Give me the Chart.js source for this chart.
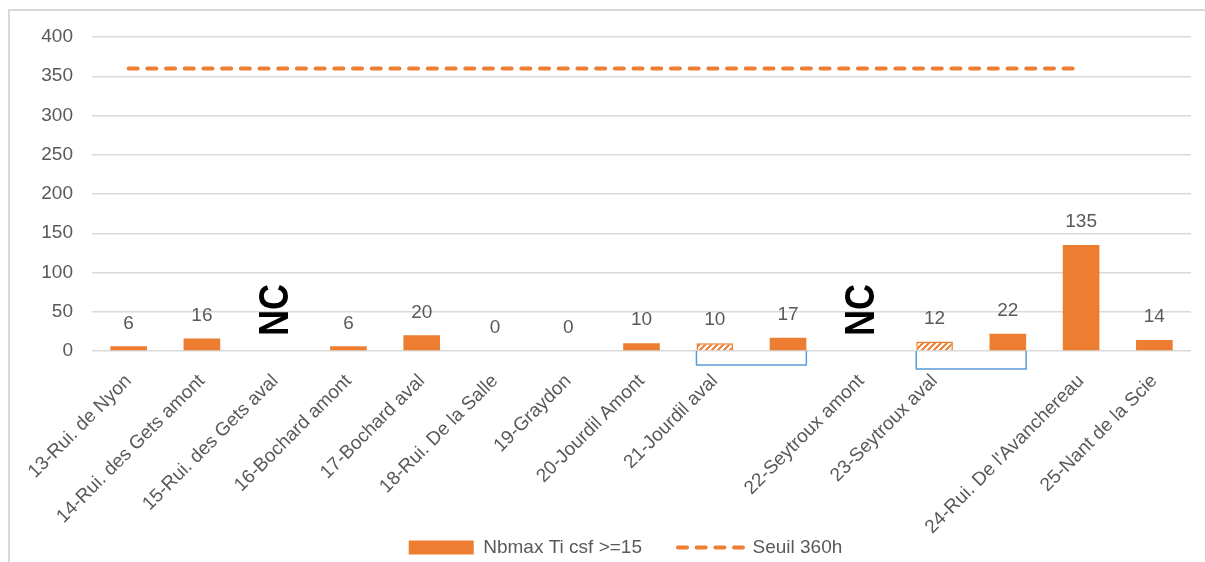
<!DOCTYPE html>
<html>
<head>
<meta charset="utf-8">
<script src="https://cdn.jsdelivr.net/npm/chart.js@4.4.1/dist/chart.umd.min.js"></script>
<style>
  html, body { margin: 0; padding: 0; background: #fff; overflow: hidden; }
  #wrap { position: relative; width: 1205px; height: 562px; }
</style>
</head>
<body>
<div id="wrap"><canvas id="chart" width="1205" height="562"></canvas></div>
<script>
// categories (empty label = second bar of the same station)
const stations = [
    '13-Rui. de Nyon', '14-Rui. des Gets amont', '15-Rui. des Gets aval',
    '16-Bochard amont', '17-Bochard aval', '18-Rui. De la Salle', '19-Graydon',
    '20-Jourdil Amont', '21-Jourdil aval', '', '22-Seytroux amont',
    '23-Seytroux aval', '', "24-Rui. De l'Avanchereau", '25-Nant de la Scie'
];
// null = NC (not communicated)
const nbmax = [6, 16, null, 6, 20, 0, 0, 10, 10, 17, null, 12, 22, 135, 14];
const seuil = [360, 360, 360, 360, 360, 360, 360, 360, 360, 360, 360, 360, 360, 360, null];
const hatched = [8, 11];            // bar indexes drawn with stripes
const brackets = [[8, 9], [11, 12]]; // pairs of bars grouped under one station
const yTicks = [0, 50, 100, 150, 200, 250, 300, 350, 400];

const ORANGE = '#ED7D31';
const GREY_TEXT = '#595959';
const FONT = "'Liberation Sans', Arial, sans-serif";

// striped fill for the partial bars
function makeHatch() {
    const c = document.createElement('canvas');
    c.width = 6; c.height = 6;
    const g = c.getContext('2d');
    g.fillStyle = '#fff';
    g.fillRect(0, 0, 6, 6);
    g.strokeStyle = ORANGE;
    g.lineWidth = 2;
    g.beginPath();
    g.moveTo(-1, 7); g.lineTo(7, -1);
    g.moveTo(-4, 4); g.lineTo(4, -4);
    g.moveTo(2, 10); g.lineTo(10, 2);
    g.stroke();
    return g.createPattern(c, 'repeat');
}
const hatch = makeHatch();

const barColors = nbmax.map((v, i) => hatched.includes(i) ? hatch : ORANGE);
const barBorders = nbmax.map((v, i) => hatched.includes(i) ? 1.5 : 0);

// outer frame like the spreadsheet chart area
const framePlugin = {
    id: 'frame',
    beforeDraw(chart) {
        const ctx = chart.ctx;
        ctx.save();
        ctx.fillStyle = '#fff';
        ctx.fillRect(0, 0, chart.width, chart.height);
        ctx.strokeStyle = '#d9d9d9';
        ctx.lineWidth = 2;
        ctx.strokeRect(9, 10, chart.width + 20, chart.height + 20);
        ctx.restore();
    }
};

// legend sits a bit right of the canvas centre and a bit lower in the original;
// the long rotated station names run down beside the legend, so let them overflow
const layoutTweak = {
    id: 'layoutTweak',
    afterLayout(chart) {
        const lg = chart.legend;
        lg.left += 50;
        lg.top += 7;
        lg.bottom += 7;
        chart.scales.x.bottom = chart.height;
    }
};

// value labels, NC labels and the blue brackets
const annotPlugin = {
    id: 'annot',
    afterDatasetsDraw(chart) {
        const ctx = chart.ctx;
        const xs = chart.scales.x, ys = chart.scales.y;
        const meta = chart.getDatasetMeta(0);
        const y0 = ys.getPixelForValue(0);
        ctx.save();
        ctx.textAlign = 'center';
        ctx.textBaseline = 'middle';
        nbmax.forEach((v, i) => {
            const x = xs.getPixelForValue(i);
            if (v === null) {
                ctx.save();
                ctx.translate(x, y0 - 41);
                ctx.rotate(-Math.PI / 2);
                ctx.scale(0.84, 1);
                ctx.fillStyle = '#000';
                ctx.font = 'bold 43px ' + FONT;
                ctx.fillText('NC', 0, 1);
                ctx.restore();
            } else {
                ctx.fillStyle = GREY_TEXT;
                ctx.font = '19px ' + FONT;
                ctx.fillText(String(v), x, ys.getPixelForValue(v) - 23);
            }
        });
        ctx.strokeStyle = '#5B9BD5';
        ctx.lineWidth = 1.5;
        ctx.lineJoin = 'round';
        brackets.forEach(([a, b], k) => {
            const ba = meta.data[a], bb = meta.data[b];
            const left = ba.x - ba.width / 2;
            const right = bb.x + bb.width / 2;
            const depth = k === 0 ? 14 : 18;
            ctx.beginPath();
            ctx.moveTo(left, y0);
            ctx.lineTo(left, y0 + depth);
            ctx.lineTo(right, y0 + depth);
            ctx.lineTo(right, y0);
            ctx.stroke();
        });
        ctx.restore();
    }
};

new Chart(document.getElementById('chart'), {
    type: 'bar',
    data: {
        labels: stations,
        datasets: [{
            label: 'Nbmax Ti csf >=15',
            data: nbmax,
            backgroundColor: barColors,
            borderColor: ORANGE,
            borderWidth: barBorders,
            barPercentage: 0.5,
            categoryPercentage: 1,
            pointStyle: 'rect',
            order: 2
        }, {
            type: 'line',
            label: 'Seuil 360h',
            data: seuil,
            borderColor: ORANGE,
            backgroundColor: ORANGE,
            borderWidth: 4,
            borderDash: [9, 9.7],
            borderCapStyle: 'round',
            pointRadius: 0,
            pointStyle: 'line',
            fill: false,
            order: 1
        }]
    },
    options: {
        responsive: false,
        animation: false,
        events: [],
        layout: { padding: { left: 10, right: 14, top: 37, bottom: 2 } },
        plugins: {
            legend: {
                position: 'bottom',
                labels: {
                    usePointStyle: true,
                    pointStyleWidth: 65,
                    boxHeight: 14,
                    padding: 36,
                    color: GREY_TEXT,
                    font: { family: FONT, size: 19 },
                    sort: (a, b) => a.datasetIndex - b.datasetIndex,
                    generateLabels(chart) {
                        const items = Chart.defaults.plugins.legend.labels.generateLabels(chart);
                        items.forEach(it => {
                            const ds = chart.data.datasets[it.datasetIndex];
                            if (ds.type === 'line') {
                                it.lineDash = ds.borderDash;
                                it.lineCap = ds.borderCapStyle;
                                it.lineWidth = ds.borderWidth;
                                it.strokeStyle = ds.borderColor;
                            } else {
                                it.fillStyle = ORANGE;
                                it.lineWidth = 0;
                            }
                        });
                        return items;
                    }
                }
            },
            tooltip: { enabled: false }
        },
        scales: {
            x: {
                grid: { display: false },
                border: { display: false },
                ticks: {
                    autoSkip: false,
                    minRotation: 45,
                    maxRotation: 45,
                    padding: 11,
                    color: GREY_TEXT,
                    font: { family: FONT, size: 19 }
                },
                afterFit(scale) { scale.height = 144; }
            },
            y: {
                min: 0,
                max: 400,
                afterBuildTicks(scale) { scale.ticks = yTicks.map(v => ({ value: v })); },
                grid: { color: '#d9d9d9', lineWidth: 1.5, drawTicks: false },
                border: { display: false },
                ticks: {
                    padding: 19,
                    color: GREY_TEXT,
                    font: { family: FONT, size: 19 }
                },
                afterFit(scale) { scale.width = 82; }
            }
        }
    },
    plugins: [framePlugin, layoutTweak, annotPlugin]
});
</script>
</body>
</html>
